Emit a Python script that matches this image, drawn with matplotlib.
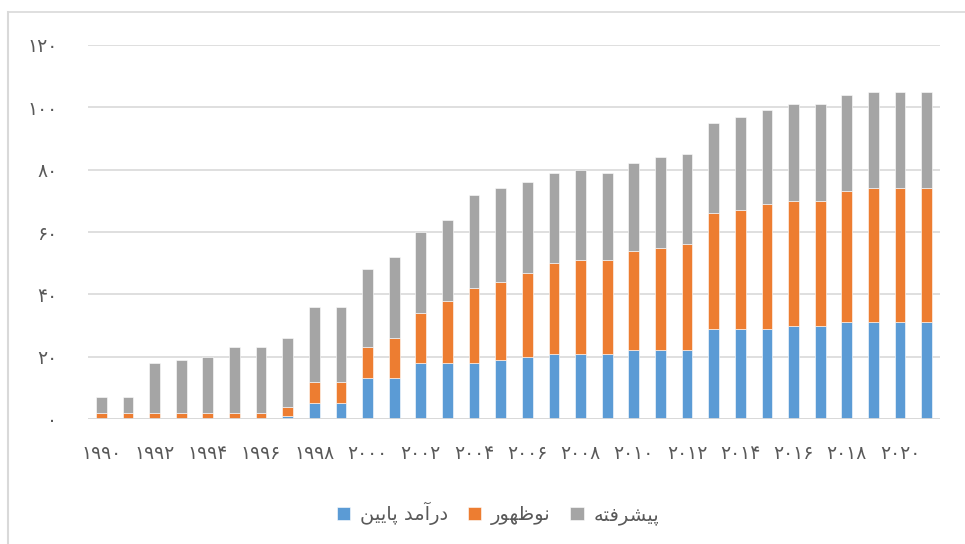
import numpy as np
import matplotlib.pyplot as plt
from matplotlib.lines import Line2D

plt.rcParams['font.family'] = ['DejaVu Sans']

years = list(range(1990, 2022))

# تعداد کشورها در هر گروه (سهم هر گروه در ستون)
low_income = [0, 0, 0, 0, 0, 0, 0, 1, 5, 5, 13, 13, 18, 18, 18, 19,
              20, 21, 21, 21, 22, 22, 22, 29, 29, 29, 30, 30, 31, 31, 31, 31]
emerging = [2, 2, 2, 2, 2, 2, 2, 3, 7, 7, 10, 13, 16, 20, 24, 25,
            27, 29, 30, 30, 32, 33, 34, 37, 38, 40, 40, 40, 42, 43, 43, 43]
advanced = [5, 5, 16, 17, 18, 21, 21, 22, 24, 24, 25, 26, 26, 26, 30, 30,
            29, 29, 29, 28, 28, 29, 29, 29, 30, 30, 31, 31, 31, 31, 31, 31]

# برچسب‌های راهنما با حروف شکل‌یافته و ترتیب دیداری چپ به راست
label_low = ('\uFEE6\uFBFF\uFBFE\uFE8E\uFB58' + ' '
             + '\uFEAA\uFEE3\uFE81\uFEAD\uFEA9')            # درآمد پایین
label_emerging = '\uFEAD\uFEEE\uFEEC\uFEC7\uFEEE\uFEE7'      # نوظهور
label_advanced = '\uFEEA\uFE98\uFED3\uFEAE\uFEB8\uFBFF\uFB58'  # پیشرفته

fa_digits = str.maketrans('0123456789', '۰۱۲۳۴۵۶۷۸۹')


def to_fa(v):
    return str(v).translate(fa_digits)


c_low = '#5B9BD5'
c_emg = '#ED7D31'
c_adv = '#A5A5A5'
text_c = '#595959'
grid_c = '#D9D9D9'

fig = plt.figure(figsize=(9.65, 5.44), dpi=100)
ax = fig.add_axes([88 / 965, 1 - 419 / 544, (940 - 88) / 965, (419 - 45) / 544])

x = np.arange(len(years))
low = np.array(low_income)
emg = np.array(emerging)
adv = np.array(advanced)
w = 0.4

ax.bar(x, low, w, color=c_low, edgecolor='white', linewidth=0.4, label=label_low, zorder=3)
ax.bar(x, emg, w, bottom=low, color=c_emg, edgecolor='white', linewidth=0.4,
       label=label_emerging, zorder=3)
ax.bar(x, adv, w, bottom=low + emg, color=c_adv, edgecolor='white', linewidth=0.4,
       label=label_advanced, zorder=3)

ax.set_xlim(-0.5, len(years) - 0.5)
ax.set_ylim(0, 120)

yt = np.arange(0, 121, 20)
ax.set_yticks(yt)
ax.set_yticklabels([to_fa(v) for v in yt], fontsize=13.5, color=text_c)
xt = x[::2]
ax.set_xticks(xt)
ax.set_xticklabels([to_fa(years[i]) for i in xt], fontsize=13.5, color=text_c)
ax.tick_params(axis='y', length=0, pad=22)
ax.tick_params(axis='x', length=0, pad=18)

ax.grid(axis='y', color=grid_c, linewidth=1.2, zorder=0)
for s in ax.spines.values():
    s.set_visible(False)
ax.axhline(0, color=grid_c, linewidth=2, zorder=4)

leg = ax.legend(loc='upper center', bbox_to_anchor=(0.481, -0.175), ncol=3,
                frameon=False, fontsize=14, handlelength=0.7, handleheight=0.7,
                handletextpad=0.5, columnspacing=1.0)
for t in leg.get_texts():
    t.set_color(text_c)

# قاب نمودار
fig.add_artist(Line2D([8 / 965, 1], [1 - 12 / 544, 1 - 12 / 544], color=grid_c, linewidth=1.2))
fig.add_artist(Line2D([8 / 965, 8 / 965], [0, 1 - 12 / 544], color=grid_c, linewidth=1.5))

fig.savefig('out.png', dpi=100)
